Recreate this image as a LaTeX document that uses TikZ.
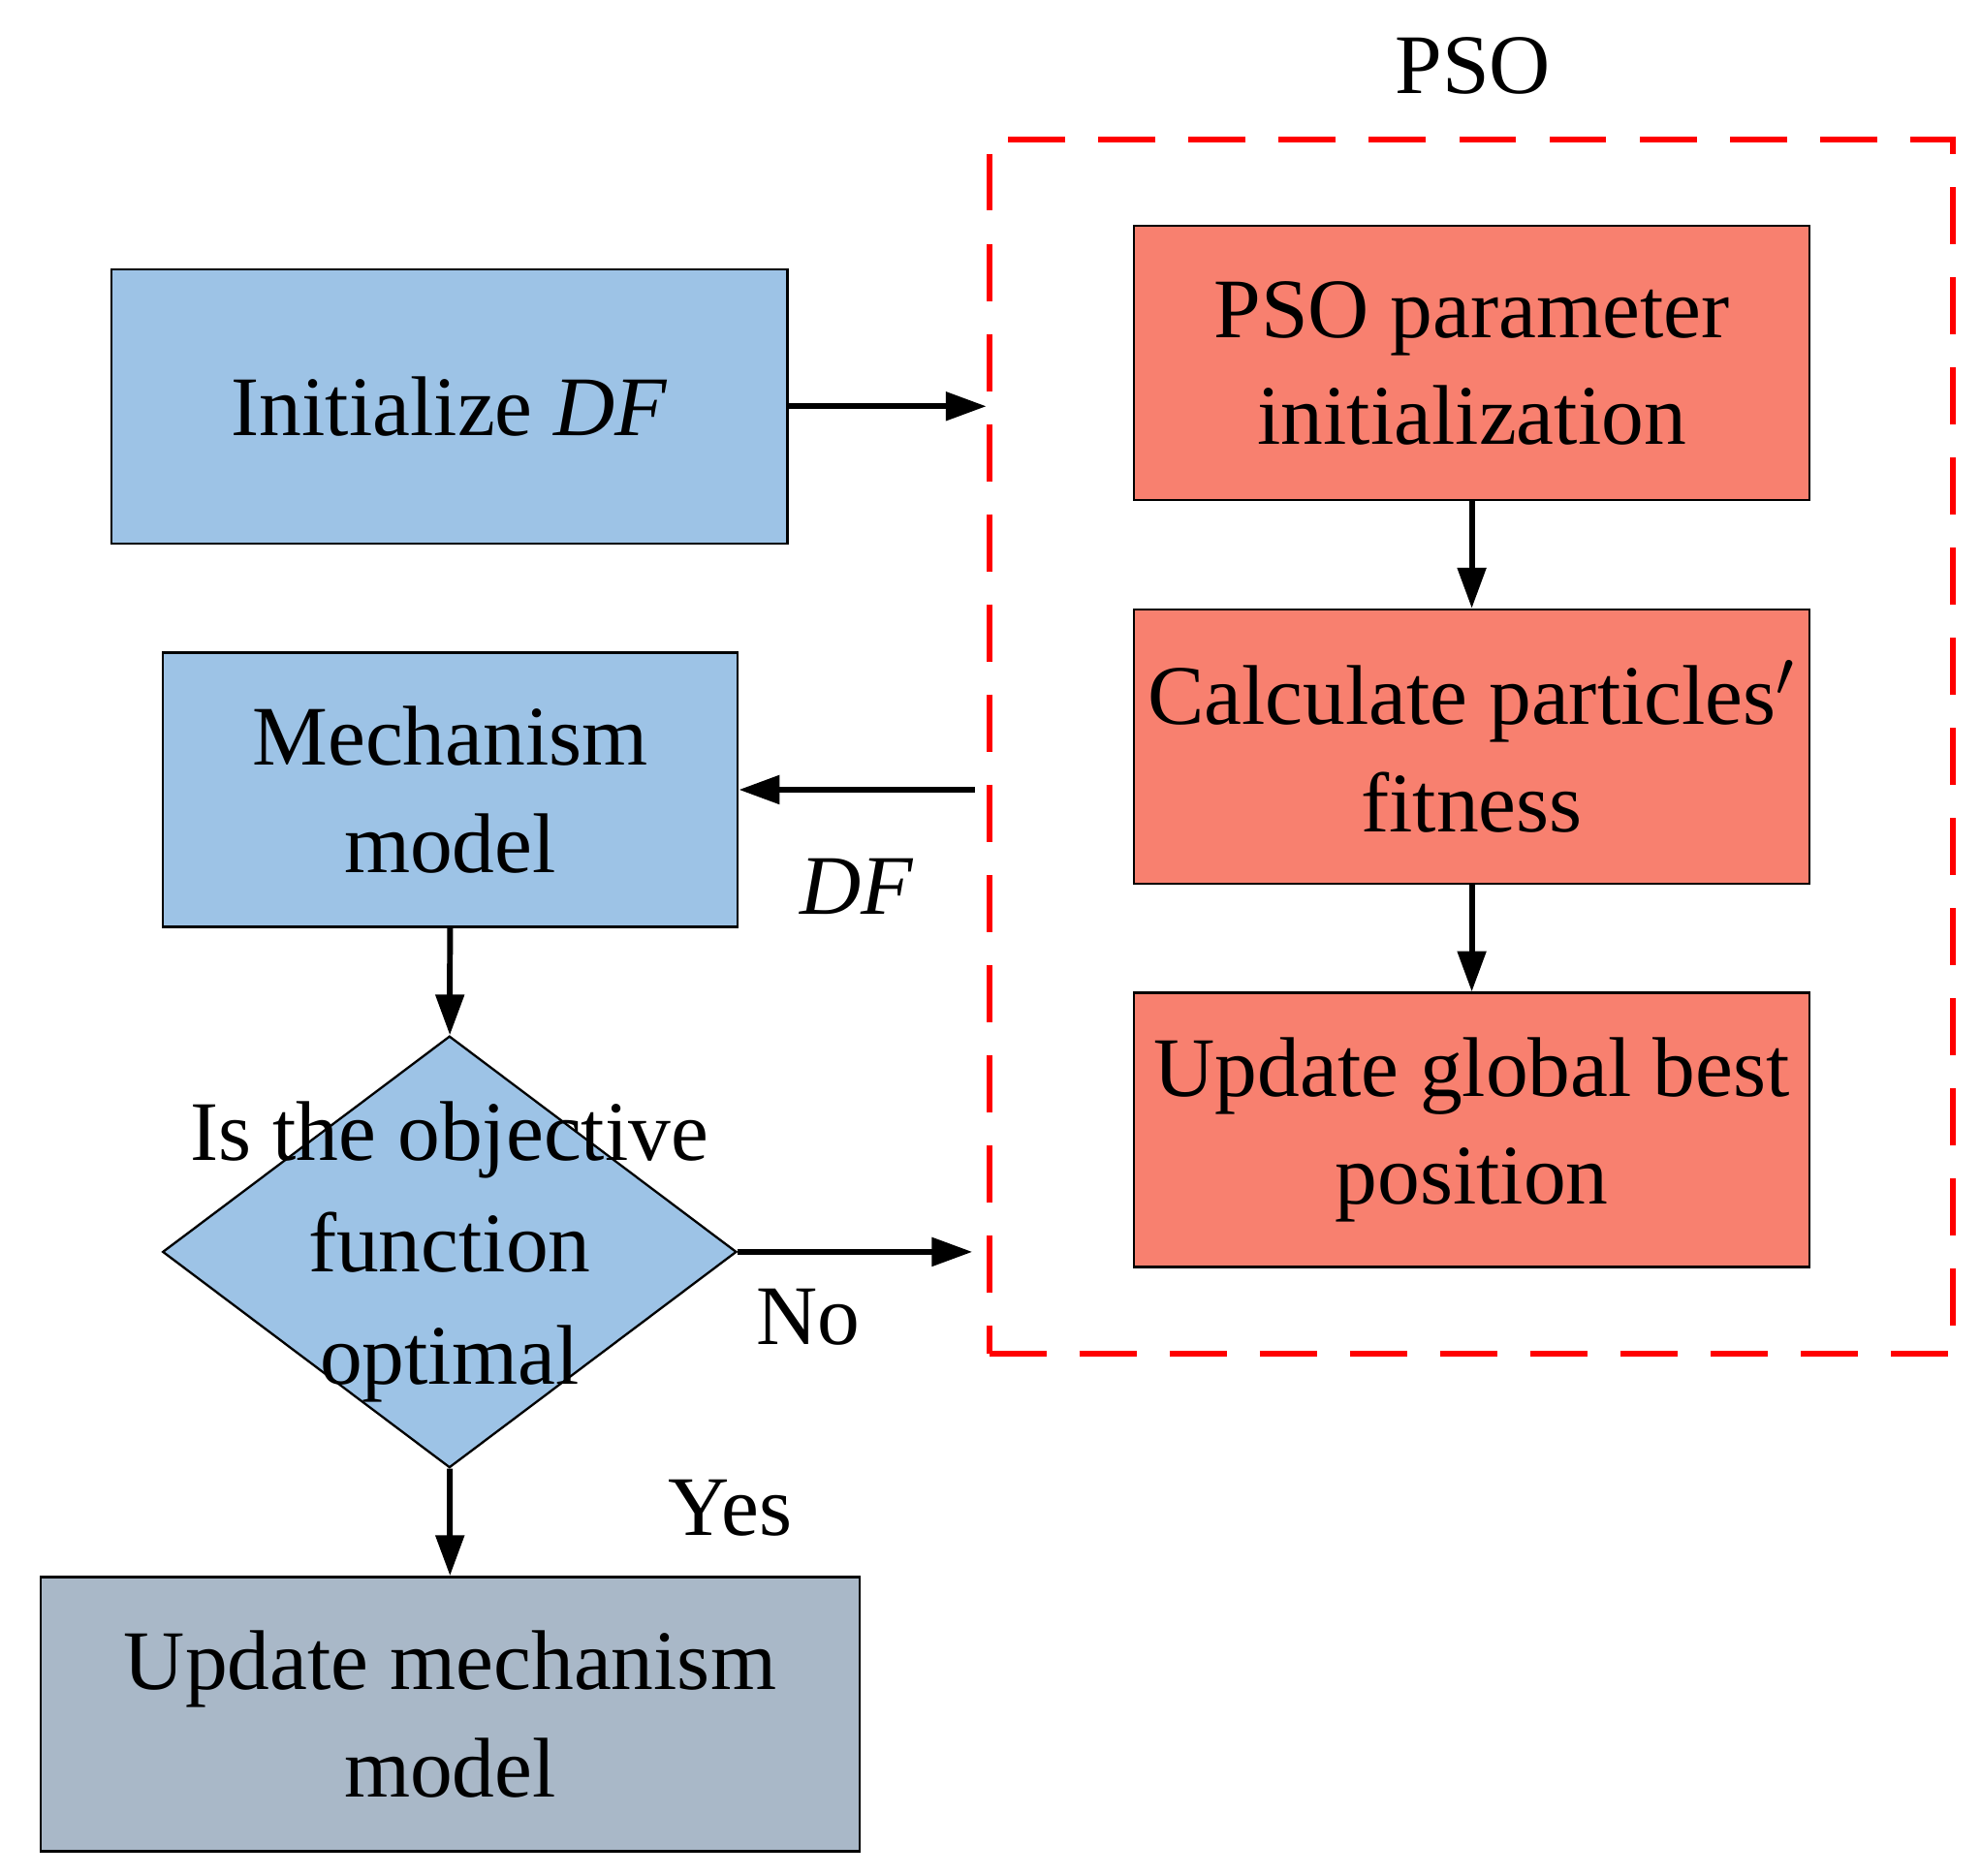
\documentclass[tikz,border=0pt]{standalone}
\usepackage{fontspec}
\setmainfont{Liberation Serif}
\usetikzlibrary{shapes.geometric, arrows.meta, positioning}
\definecolor{boxblue}{HTML}{9DC3E6}
\definecolor{boxred}{HTML}{F8806F}
\definecolor{boxgray}{HTML}{A9B8C8}

\begin{document}
\begin{tikzpicture}[
    x=0.1mm, y=-0.1mm,
    every node/.style={font=\fontsize{19}{24}\selectfont},
    procbox/.style={rectangle, draw=black, line width=0.5pt, minimum width=53.2mm, minimum height=21.6mm, align=center, inner sep=0pt},
    arrow/.style={-{Triangle[length=3.2mm, width=2.2mm]}, line width=1.3pt}
]
\useasboundingbox (0,0) rectangle (1560,1477);

\node[draw=red, line width=1.3pt, dash pattern=on 4.5mm off 2.6mm, minimum width=75.9mm, minimum height=95.6mm, inner sep=0pt] (psobox) at (1158.5,588) {};
\node (psolabel) at (1160,52) {PSO};

\node[procbox, fill=boxblue] (init) at (354,320) {Initialize \textit{DF}};
\node[procbox, fill=boxblue, minimum width=45.3mm] (mech) at (354.5,622) {Mechanism\\model};
\node[diamond, draw=black, line width=0.5pt, fill=boxblue, minimum width=45.2mm, minimum height=34mm, inner sep=0pt, label={[align=center, font=\fontsize{19}{25}\selectfont]center:Is the objective\\function\\optimal}] (check) at (354,986) {};
\node[procbox, fill=boxgray, minimum width=64.5mm] (update) at (354.5,1350) {Update mechanism\\model};

\node[procbox, fill=boxred] (param) at (1159,286) {PSO parameter\\initialization};
\node[procbox, fill=boxred] (fitness) at (1159,588) {Calculate particles$'$\\fitness};
\node[procbox, fill=boxred] (best) at (1159,890) {Update global best\\position};

\draw[arrow] (init.east) -- (psobox.west |- init.east);
\draw[arrow] ([xshift=-0.9mm]psobox.west |- mech.east) -- node[below=4mm] {\textit{DF}} (mech.east);
\draw[arrow] (mech) -- (check);
\draw[arrow] (check.east) -- node[below=1.5mm, pos=0.3] {No} ([xshift=-1.1mm]psobox.west |- check.east);
\draw[arrow] (check) -- (update);
\node (yes) at (575,1188) {Yes};

\draw[arrow] (param) -- (fitness);
\draw[arrow] (fitness) -- (best);

\end{tikzpicture}
\end{document}
